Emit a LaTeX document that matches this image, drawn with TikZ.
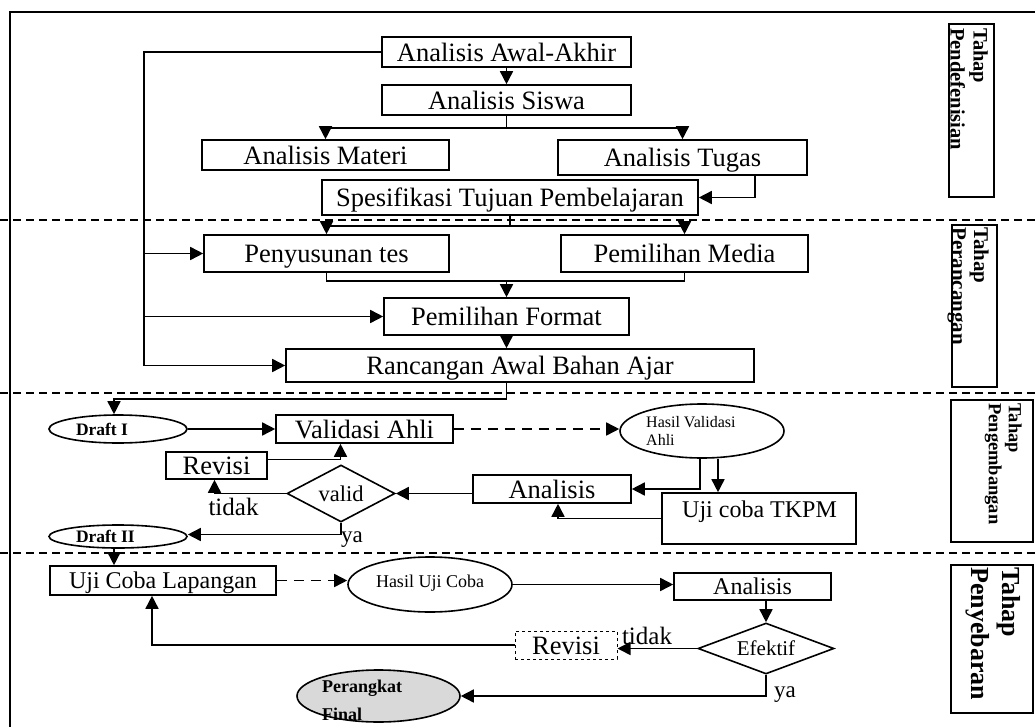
\documentclass[tikz,border=0pt]{standalone}
\usepackage{fontspec}
\setmainfont{Liberation Serif}
\usetikzlibrary{arrows.meta,shapes.geometric}
\tikzset{
  ln/.style={line width=1.6pt},
  arr/.style={ln, -{Triangle[length=13pt,width=13pt]}},
  darr/.style={arr, dash pattern=on 10pt off 7pt},
  wh/.style 2 args={minimum width=#1pt, minimum height=#2pt},
  box/.style={draw, ln, rectangle, inner sep=0pt, text height=18.3pt, text depth=0pt, font=\fontsize{26.5}{31}\selectfont},
  sbox/.style={box, text height=16.5pt, font=\fontsize{24}{29}\selectfont},
  oval/.style={draw, ln, ellipse, inner sep=0pt},
  dia/.style={draw, ln, diamond, inner sep=0pt},
  sep/.style={line width=1.3pt, dash pattern=on 8pt off 5pt},
  lbl/.style={inner sep=0pt},
  sidetext/.style={rotate=-90, anchor=north west, align=left, inner sep=0pt},
  drafttext/.style={font=\bfseries\fontsize{17.5}{20}\selectfont}
}
\begin{document}
\begin{tikzpicture}[x=1pt,y=-1pt]
\useasboundingbox (0,0) rectangle (1035,727);
% frame and separators
\draw[ln] (10,727) -- (10,12) -- (1035,12);
\draw[sep] (0,220) -- (1035,220);
\draw[sep] (0,393) -- (1035,393);
\draw[sep] (0,553) -- (1035,553);

% side labels
\node[draw, ln, wh={45}{173}] (s1) at (971.5,110.5) {};
\node[sidetext, font=\bfseries\fontsize{20.5}{23}\selectfont] (s1t) at (988,28) {Tahap\\Pendefenisian};
\node[draw, ln, wh={45}{162}] (s2) at (974.5,306) {};
\node[sidetext, font=\bfseries\fontsize{21}{22}\selectfont] (s2t) at (989,227) {Tahap\\Perancangan};
\node[draw, ln, wh={82}{142}] (s3) at (992,471) {};
\node[sidetext, font=\bfseries\fontsize{18.5}{20}\selectfont] (s3t) at (1022,403) {Tahap\\Pengembangan};
\node[draw, ln, wh={82}{148}] (s4) at (992,639) {};
\node[sidetext, font=\bfseries\fontsize{26}{31}\selectfont] (s4t) at (1021,567) {Tahap\\Penyebaran};

% section 1 & 2
\node[box, wh={249}{30}] (awal) at (506.5,52) {Analisis Awal-Akhir};
\node[box, wh={249}{30}] (siswa) at (506.5,100) {Analisis Siswa};
\node[box, wh={247}{30}] (materi) at (325.5,155) {Analisis Materi};
\node[box, wh={249}{35}] (tugas) at (682.5,157.5) {Analisis Tugas};
\node[box, wh={376}{35}] (spes) at (510,197.5) {Spesifikasi Tujuan Pembelajaran};
\node[box, wh={245}{37}] (tes) at (326.5,253.5) {Penyusunan tes};
\node[box, wh={247}{37}] (media) at (684.5,253.5) {Pemilihan Media};
\node[box, wh={245}{37}] (format) at (506.5,316.5) {Pemilihan Format};
\node[box, wh={468}{33}] (ranc) at (520,365.5) {Rancangan Awal Bahan Ajar};

% section 3
\node[oval, wh={138}{28}, drafttext] (draft1) at (118,429) {\makebox[84pt][l]{Draft I}};
\node[box, wh={177}{28}] (valA) at (364.5,429) {Validasi Ahli};
\node[oval, wh={164}{54}] (hva) at (702,431) {};
\node[lbl, anchor=west, align=left, font=\fontsize{16}{18}\selectfont] (hvat) at (646,430.5) {Hasil Validasi\\Ahli};
\node[box, wh={101}{27}] (rev1) at (216.5,465.5) {Revisi};
\node[dia, wh={108}{57}, aspect=1.9, font=\fontsize{22.5}{27}\selectfont] (valid) at (341,493.5) {valid};
\node[box, wh={158}{28}] (an1) at (552,489) {Analisis};
\node[draw, ln, wh={194}{51}] (tkpm) at (759,518.5) {};
\node[lbl, font=\fontsize{24}{29}\selectfont] (tkpmt) at (759.5,511.5) {Uji coba TKPM};
\node[oval, wh={138}{23}, drafttext] (draft2) at (118,536.5) {\makebox[84pt][l]{Draft II}};
\node[lbl, font=\fontsize{25}{30}\selectfont] (tidak1) at (233.5,507) {tidak};
\node[lbl, font=\fontsize{23}{28}\selectfont] (ya1) at (352,539.5) {ya};

% section 4
\node[sbox, wh={226}{29}] (ujl) at (163,580.5) {Uji Coba Lapangan};
\node[oval, wh={164}{55}, font=\fontsize{18}{21}\selectfont] (huc) at (430,584.5) {\raisebox{6pt}{Hasil Uji Coba}};
\node[sbox, wh={157}{27}] (an2) at (752.5,586.5) {Analisis};
\node[dia, wh={136}{51}, aspect=2.67, font=\fontsize{21}{25}\selectfont] (efek) at (766,648.5) {Efektif};
\node[box, line width=1pt, dashed, wh={102}{28}] (rev2) at (566,645) {Revisi};
\node[lbl, font=\fontsize{25}{30}\selectfont] (tidak2) at (647,636) {tidak};
\node[lbl, font=\fontsize{23}{28}\selectfont] (ya2) at (785,695) {ya};
\node[oval, fill=gray!30, wh={163}{52}] (final) at (378.5,696) {};
\node[lbl, anchor=west, align=left, font=\bfseries\fontsize{18}{28}\selectfont] (finalt) at (322,700) {Perangkat\\Final};

% connectors section 1-2
\draw[arr] (awal.south) -- (siswa.north);
\coordinate (j1) at ([yshift=-12pt]siswa.south);
\draw[ln] (siswa.south) -- (j1);
\draw[arr] (j1) -| (materi.north);
\draw[arr] (j1) -| (tugas.north);
\draw[arr] ([xshift=-53pt]tugas.south east) |- (spes.east);
\coordinate (fb) at (144,365.5);
\draw[ln] (awal.west) -| (fb);
\draw[arr] (fb |- tes.west) -- (tes.west);
\draw[arr] (fb |- format.west) -- (format.west);
\draw[arr] (fb |- ranc.west) -- (ranc.west);
\coordinate (j2) at ([yshift=-10pt]spes.south);
\draw[ln] (spes.south) -- (j2);
\draw[arr] (j2) -| (tes.north);
\draw[arr] (j2) -| (media.north);
\coordinate (j3) at ([yshift=16pt]format.north);
\draw[ln] (tes.south) |- (j3) -| (media.south);
\draw[arr] (j3) -- (format.north);
\draw[arr] (format.south) -- (format.south |- ranc.north);
\coordinate (j4) at (format.south |- ranc.south);
\draw[arr] (j4) -- ++(0,16) -| ([xshift=-4pt]draft1.north);

% connectors section 3
\draw[arr] (draft1.east) -- (valA.west);
\draw[darr] (valA.east) -- (valA.east -| hva.west);
\draw[arr] ([xshift=-2pt]hva.south) |- (an1.east);
\draw[arr] ([xshift=16pt]hva.south) -- ([xshift=16pt]hva.south |- tkpm.north);
\draw[arr] (tkpm.west) -| ([xshift=6pt]an1.south);
\draw[arr] (an1.west |- valid.east) -- (valid.east);
\draw[arr] (valid.west) -| ([xshift=-2pt]rev1.south);
\draw[arr] ([yshift=6pt]rev1.east) -| ([xshift=-24pt]valA.south);
\draw[arr] (valid.south) |- ([yshift=2pt]draft2.east);
\draw[arr] ([xshift=-4pt]draft2.south) -- ([xshift=-4pt]draft2.south |- ujl.north);

% connectors section 4
\draw[darr] (ujl.east) -- (ujl.east -| huc.west);
\draw[arr] (huc.east) -- (huc.east -| an2.west);
\draw[arr] (efek.north |- an2.south) -- (efek.north);
\draw[arr] (efek.west) -- (efek.west -| rev2.east);
\draw[arr] (rev2.west) -| ([xshift=-11pt]ujl.south);
\draw[arr] (efek.south) |- (final.east);
\end{tikzpicture}
\end{document}
